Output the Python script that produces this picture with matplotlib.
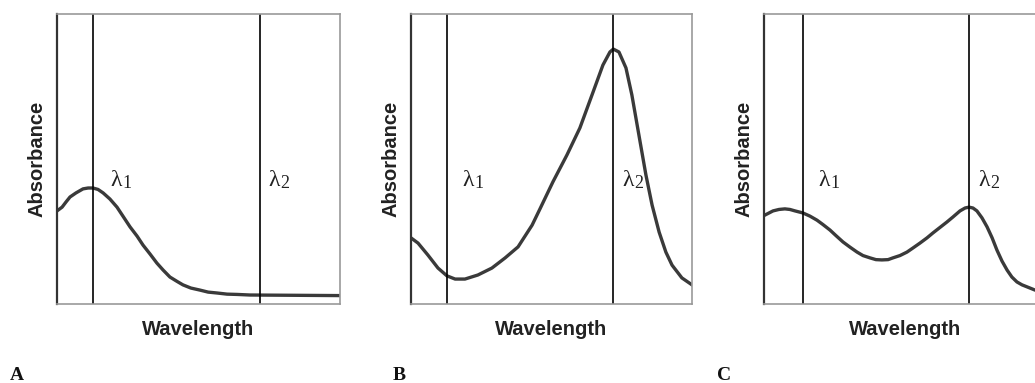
import matplotlib
matplotlib.use("Agg")
import matplotlib.pyplot as plt
import matplotlib.transforms as mtransforms

# absorbance spectra (x: wavelength 0-100, y: absorbance 0-100)
wave_a = [0, 1.8, 3.2, 4.6, 6.7, 9.2, 11.0, 12.7, 14.5, 16.3, 18.7, 21.2, 23.3, 25.8, 28.3,
          30.4, 32.9, 35.3, 37.5, 39.9, 42.4, 44.5, 47.3, 50.5, 53.4, 56.5, 60.1, 63.6, 68.2, 100]
abs_a = [32.1, 33.4, 35.2, 36.9, 38.3, 39.7, 40.0, 40.0, 39.5, 38.3, 36.2, 33.4, 30.3, 26.6, 23.4,
         20.3, 17.2, 14.1, 11.7, 9.3, 7.8, 6.6, 5.5, 4.8, 4.1, 3.8, 3.4, 3.3, 3.1, 2.9]

wave_b = [0, 2.5, 6.0, 9.6, 12.8, 15.7, 19.2, 23.8, 28.8, 33.5, 38.1, 43.1, 45.9, 50.5, 55.5,
          60.1, 64.8, 68.3, 70.8, 72.0, 74.0, 76.5, 78.6, 81.1, 83.6, 85.8, 88.3, 90.7, 92.9, 96.4, 100]
abs_b = [22.8, 21.0, 16.9, 12.4, 9.7, 8.6, 8.6, 10.0, 12.4, 15.9, 19.7, 27.2, 32.8, 42.1, 51.4,
         60.7, 73.1, 82.4, 86.9, 87.9, 86.9, 81.4, 72.1, 58.3, 44.5, 34.1, 24.8, 17.9, 13.4, 9.0, 6.6]

wave_c = [0, 1.8, 3.2, 5.3, 7.4, 9.2, 11.0, 13.8, 16.3, 18.8, 20.9, 23.4, 25.5, 28.0, 30.5,
          33.0, 35.1, 37.6, 39.7, 41.8, 44.0, 45.7, 48.2, 50.7, 52.8, 55.3, 57.8, 59.9, 62.4, 64.9,
          67.0, 69.5, 71.3, 72.7, 74.1, 75.5, 77.3, 79.1, 80.9, 82.6, 84.4, 86.2, 87.9, 89.7, 91.5,
          93.3, 96.1, 100]
abs_c = [30.5, 31.4, 32.1, 32.6, 32.8, 32.6, 32.1, 31.4, 30.3, 28.9, 27.4, 25.5, 23.6, 21.4, 19.6,
         17.9, 16.7, 15.9, 15.3, 15.2, 15.3, 15.9, 16.7, 17.9, 19.3, 21.0, 22.8, 24.5, 26.4, 28.3,
         30.0, 32.1, 33.1, 33.4, 33.1, 32.1, 29.7, 26.6, 22.8, 18.6, 14.8, 11.7, 9.3, 7.6, 6.6,
         5.9, 4.8, 4.1]

# the two measuring wavelengths per panel
lambdas_a = [12.7, 71.7]
lambdas_b = [12.8, 71.9]
lambdas_c = [13.8, 72.7]

panel_letters = ["A", "B", "C"]

W, H = 1035, 383
fig = plt.figure(figsize=(W / 100, H / 100), dpi=100)

# panel boxes in pixels: left, top, width, height
boxes = [(57, 14, 283, 290), (411, 14, 281, 290), (764, 14, 282, 290)]
letter_x = [10, 393, 717]
lam1_off = [17, 15, 15]
lam2_off = [8, 9, 9]

panels = [(wave_a, abs_a, lambdas_a), (wave_b, abs_b, lambdas_b), (wave_c, abs_c, lambdas_c)]

for i, (wave, absb, lams) in enumerate(panels):
    left, top, w, h = boxes[i]
    ax = fig.add_axes([left / W, (H - top - h) / H, w / W, h / H])
    ax.plot(wave, absb, color="#3a3a3a", lw=2.4, solid_joinstyle="round")
    ax.set_xlim(0, 100)
    ax.set_ylim(0, 100)
    ax.set_xticks([])
    ax.set_yticks([])
    for side in ("top", "right", "bottom"):
        ax.spines[side].set_color("#999999")
        ax.spines[side].set_linewidth(1.2)
    ax.spines["left"].set_color("#333333")
    ax.spines["left"].set_linewidth(1.6)

    trans = mtransforms.blended_transform_factory(ax.transData, ax.transAxes)
    for k, lx in enumerate(lams):
        ax.axvline(lx, color="black", lw=1.2)
        off = lam1_off[i] if k == 0 else lam2_off[i]
        ax.annotate("λ", xy=(lx, 0.407), xycoords=trans, xytext=(off, 0),
                    textcoords="offset pixels", ha="left", va="baseline",
                    family="Liberation Serif", fontsize=17, color="#222222")
        ax.annotate(str(k + 1), xy=(lx, 0.407), xycoords=trans, xytext=(off + 12, -2),
                    textcoords="offset pixels", ha="left", va="baseline",
                    family="Liberation Serif", fontsize=13, color="#222222")

    fig.text((left + w / 2) / W, (H - 335) / H, "Wavelength", ha="center", va="baseline",
             family="Liberation Sans", weight="bold", fontsize=14.5, color="#222222")
    fig.text((left - 20) / W, (H - 159) / H, "Absorbance", ha="center", va="center",
             rotation=90, family="Liberation Sans", weight="bold", fontsize=14.5, color="#222222")
    fig.text(letter_x[i] / W, (H - 380) / H, panel_letters[i], ha="left", va="baseline",
             family="Liberation Serif", weight="bold", fontsize=14, color="#111111")

fig.savefig("out.png", dpi=100)
